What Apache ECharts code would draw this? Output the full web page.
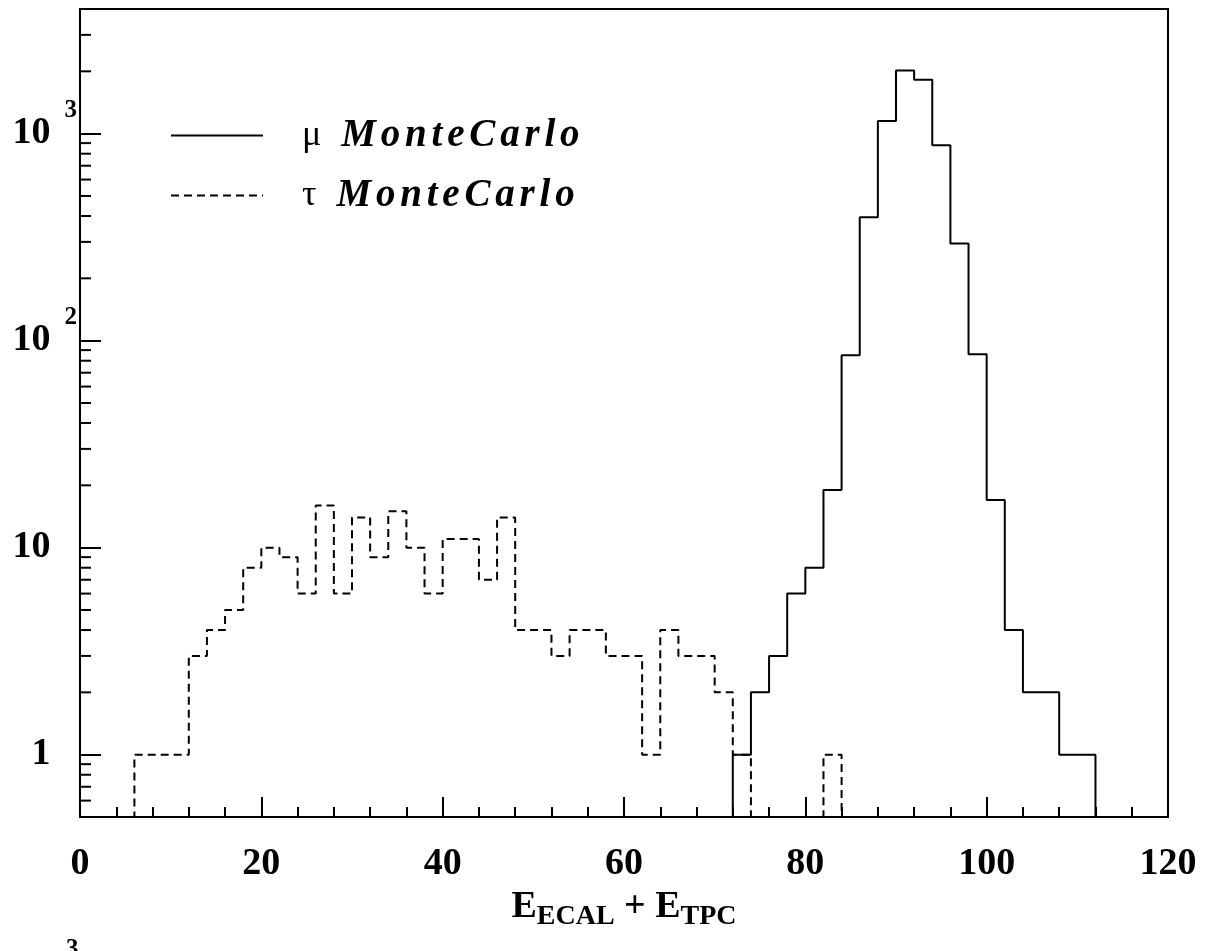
<!DOCTYPE html>
<html><head><meta charset="utf-8">
<script src="https://cdn.jsdelivr.net/npm/echarts@6/dist/echarts.min.js"></script>
<style>html,body{margin:0;padding:0;background:#fff}#c{width:1208px;height:951px}</style>
</head><body><div id="c"></div>
<script>
// Lower edges of the 2-unit bins
const binStart = [0,2,4,6,8,10,12,14,16,18,20,22,24,26,28,30,32,34,36,38,
  40,42,44,46,48,50,52,54,56,58,60,62,64,66,68,70,72,74,76,78,
  80,82,84,86,88,90,92,94,96,98,100,102,104,106,108,110,112,114,116,118];
const binEnd = 120;
// tau MonteCarlo (dashed)
const tauCounts = [0,0,0,1,1,1,3,4,5,8,10,9,6,16,6,14,9,15,10,6,
  11,11,7,14,4,4,3,4,4,3,3,1,4,3,3,2,1,0,0,0,
  0,1,0,0,0,0,0,0,0,0,0,0,0,0,0,0,0,0,0,0];
// mu MonteCarlo (solid)
const muCounts = [0,0,0,0,0,0,0,0,0,0,0,0,0,0,0,0,0,0,0,0,
  0,0,0,0,0,0,0,0,0,0,0,0,0,0,0,0,1,2,3,6,
  8,19,85,395,1150,2020,1820,880,295,86,17,4,2,2,1,1,0,0,0,0];
const yMinorTicks = [0.6,0.7,0.8,0.9,2,3,4,5,6,7,8,9,20,30,40,50,60,70,80,90,
  200,300,400,500,600,700,800,900,2000,3000];
const seriesNames = ['\u03bc MonteCarlo', '\u03c4 MonteCarlo'];
const xMin = 0, xMax = 120, xInterval = 20;
const yMin = 0.5, yMax = 4000;

const FONT = '"Liberation Serif", "DejaVu Serif", serif';

function histData(counts) {
  const d = binStart.map((x, i) => [x, Math.max(counts[i], yMin)]);
  d.push([binEnd, yMin]);
  return d;
}

const chart = echarts.init(document.getElementById('c'), null, {renderer: 'canvas'});
chart.setOption({
  animation: false,
  backgroundColor: '#fff',
  grid: {left: 80, right: 40, top: 9, bottom: 134, show: true, borderColor: '#000', borderWidth: 2},
  legend: {
    orient: 'vertical', left: 170, top: 116, padding: 0, itemWidth: 92, itemHeight: 30, itemGap: 21,
    data: [seriesNames[0], seriesNames[1]],
    selectedMode: false,
    itemStyle: {opacity: 0},
    formatter: function (name) {
      const parts = name.split(' ');
      return '{g|' + parts[0] + '}' + parts[1].split('').map(c => '{i|' + c + '}').join('');
    },
    textStyle: {
      color: '#000',
      rich: {
        g: {fontFamily: FONT, fontSize: 36, lineHeight: 30, color: '#000', padding: [0, 20, 0, 34]},
        i: {fontFamily: FONT, fontSize: 39, lineHeight: 30, fontStyle: 'italic', fontWeight: 'bold', color: '#000', padding: [0, 4.8, 0, 0]}
      }
    }
  },
  xAxis: {
    type: 'value', min: xMin, max: xMax, interval: xInterval,
    name: '{b|E}{s|ECAL}{b| + E}{s|TPC}',
    nameLocation: 'middle', nameGap: 60,
    nameTextStyle: {
      color: '#000',
      rich: {
        b: {fontFamily: FONT, fontSize: 38, fontWeight: 'bold', lineHeight: 38, verticalAlign: 'top', color: '#000'},
        s: {fontFamily: FONT, fontSize: 28, fontWeight: 'bold', lineHeight: 28, padding: [15, 0, 0, 0], verticalAlign: 'top', color: '#000'}
      }
    },
    axisLine: {lineStyle: {color: '#000', width: 2}},
    axisTick: {inside: true, length: 20, lineStyle: {color: '#000', width: 2}},
    minorTick: {show: true, splitNumber: 5, length: 10, lineStyle: {color: '#000', width: 2}},
    splitLine: {show: false},
    axisLabel: {fontFamily: FONT, fontSize: 38, fontWeight: 'bold', color: '#000', margin: 28}
  },
  yAxis: {
    type: 'log', logBase: 10, min: yMin, max: yMax,
    axisLine: {show: true, lineStyle: {color: '#000', width: 2}},
    axisTick: {inside: true, length: 21, lineStyle: {color: '#000', width: 2}},
    minorTick: {show: false},
    splitLine: {show: false},
    axisLabel: {
      margin: 3,
      formatter: function (v) {
        const e = Math.log10(v), r = Math.round(e);
        if (Math.abs(e - r) > 1e-6 || r < 0) return '';
        if (r === 0) return '{b|1}{e| }';
        if (r === 1) return '{b|10}{e| }';
        return '{b|10}{s|' + r + '}';
      },
      rich: {
        b: {fontFamily: FONT, fontSize: 38, fontWeight: 'bold', lineHeight: 72, verticalAlign: 'middle', color: '#000'},
        s: {fontFamily: FONT, fontSize: 25, fontWeight: 'bold', lineHeight: 22, verticalAlign: 'top', padding: [0, 0, 0, 14], color: '#000'},
        e: {fontFamily: FONT, fontSize: 22, lineHeight: 22, padding: [0, 0, 0, 21], color: '#000'}
      }
    }
  },
  series: [
    {
      name: seriesNames[1], type: 'line', step: 'end', symbol: 'none', showSymbol: false,
      data: histData(tauCounts), z: 3,
      lineStyle: {color: '#000', width: 2, type: [8, 5]},
      itemStyle: {color: '#000'}
    },
    {
      name: seriesNames[0], type: 'line', step: 'end', symbol: 'none', showSymbol: false,
      data: histData(muCounts), z: 4,
      lineStyle: {color: '#000', width: 2, type: 'solid'},
      itemStyle: {color: '#000'}
    },
    {
      type: 'custom', coordinateSystem: 'cartesian2d', silent: true, z: 5, clip: false,
      data: yMinorTicks.map(v => [xMin, v]),
      encode: {x: 0, y: 1},
      renderItem: function (params, api) {
        const p = api.coord([api.value(0), api.value(1)]);
        return {type: 'line', shape: {x1: p[0], y1: p[1], x2: p[0] + 11, y2: p[1]}, style: {stroke: '#000', lineWidth: 2}};
      }
    }
  ],
  graphic: [
    {type: 'text', left: 66, top: 937, style: {text: '3', font: 'bold 25px ' + FONT, fill: '#000'}}
  ]
});
</script>
</body></html>
